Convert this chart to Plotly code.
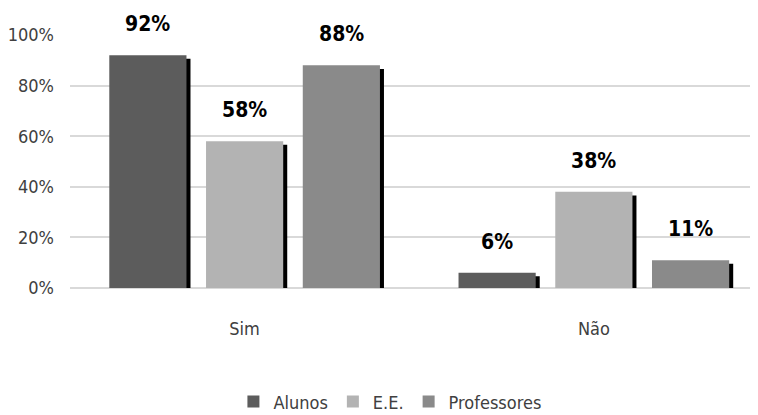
import plotly.graph_objects as go

categories = ["Sim", "Não"]
series_names = ["Alunos", "E.E.", "Professores"]
alunos = [92, 6]
ee = [58, 38]
professores = [88, 11]
value_labels = {
    "Alunos": ["92%", "6%"],
    "E.E.": ["58%", "38%"],
    "Professores": ["88%", "11%"],
}
y_ticks = [0, 20, 40, 60, 80, 100]
y_tick_labels = ["0%", "20%", "40%", "60%", "80%", "100%"]

series_values = [alunos, ee, professores]
colors = ["#5c5c5c", "#b3b3b3", "#8a8a8a"]
FONT = "Liberation Sans Narrow, Arial Narrow, DejaVu Sans Condensed, sans-serif"

bar_w = 0.221
step = 0.277
shadow_dx = 0.0115
shadow_drop = 1.4

fig = go.Figure()

# shadows
for i, vals in enumerate(series_values):
    center = (i - 1) * step
    fig.add_trace(go.Bar(
        x=categories, y=[v - shadow_drop for v in vals],
        width=bar_w, offset=center - bar_w / 2 + shadow_dx,
        marker=dict(color="#000000", line=dict(width=0)),
        showlegend=False, hoverinfo="skip",
    ))

# main bars
for i, (name, vals) in enumerate(zip(series_names, series_values)):
    center = (i - 1) * step
    fig.add_trace(go.Bar(
        x=categories, y=vals, name=name,
        width=bar_w, offset=center - bar_w / 2,
        marker=dict(color=colors[i], line=dict(width=0)),
    ))

px_per_unit = 349
annotations = []
for i, (name, vals) in enumerate(zip(series_names, series_values)):
    center = (i - 1) * step
    for cat, v, lab in zip(categories, vals, value_labels[name]):
        annotations.append(dict(
            x=cat, y=v, xref="x", yref="y", text=lab,
            showarrow=False, yanchor="bottom", xanchor="center",
            xshift=center * px_per_unit, yshift=17,
            font=dict(family=FONT, size=21, color="#000000", weight="bold"),
        ))

fig.update_layout(
    width=758, height=415,
    margin=dict(l=62, r=8, t=27, b=135, autoexpand=False),
    paper_bgcolor="white", plot_bgcolor="white",
    barmode="overlay",
    font=dict(family=FONT, size=18, color="#404040"),
    annotations=annotations,
    legend=dict(
        orientation="h", x=0.465, xanchor="center", y=-0.45, yanchor="middle",
        font=dict(family=FONT, size=18, color="#404040"),
        itemwidth=30, tracegroupgap=0,
    ),
    showlegend=True,
)
fig.update_xaxes(
    type="category", range=[-0.5, 1.47], automargin=False,
    showgrid=False, showline=False, ticks="",
    ticklabelstandoff=28,
    tickfont=dict(family=FONT, size=18, color="#404040"),
)
fig.update_yaxes(
    range=[0, 100], tickvals=y_ticks, ticktext=y_tick_labels, automargin=False,
    showgrid=True, gridcolor="#d9d9d9", gridwidth=1.5,
    zeroline=True, zerolinecolor="#d9d9d9", zerolinewidth=1.5,
    showline=False, ticks="", ticklabelstandoff=15,
    tickfont=dict(family=FONT, size=18, color="#404040"),
)

fig.write_html("out.html")
